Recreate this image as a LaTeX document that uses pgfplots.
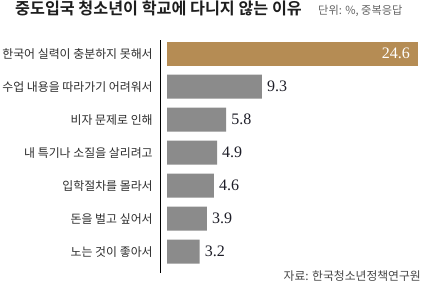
\documentclass[border=0pt]{standalone}
\usepackage{pgfplots}
\pgfplotsset{compat=1.18}
\usepackage{fontspec}
\newfontfamily\kr{Noto Sans CJK KR}
\newfontfamily\krb{Noto Sans CJK KR Bold}
\newfontfamily\valfont{Liberation Serif}
\definecolor{gold}{RGB}{181,140,84}
\definecolor{barg}{RGB}{139,139,139}
\definecolor{valc}{RGB}{30,30,40}
\begin{document}
\begin{tikzpicture}[x=1pt,y=1pt]
\useasboundingbox (0,0) rectangle (422,285);
\node[anchor=base west, inner sep=0pt, text={rgb,255:red,30;green,30;blue,30}] at (15,271) {\krb\fontsize{16.2}{18}\selectfont 중도입국 청소년이 학교에 다니지 않는 이유};
\node[anchor=base west, inner sep=0pt, text={rgb,255:red,100;green,100;blue,100}] at (318,271) {\kr\fontsize{11.2}{13}\selectfont 단위: \%, 중복응답};
\node[anchor=base east, inner sep=0pt, text={rgb,255:red,70;green,70;blue,70}] at (421,4.5) {\kr\fontsize{11.8}{13}\selectfont 자료: 한국청소년정책연구원};
\begin{axis}[
  at={(160pt,12pt)}, anchor=south west,
  scale only axis, width=260pt, height=233pt,
  xmin=-0.69, xmax=24.8, ymin=-0.415, ymax=6.645,
  y dir=reverse,
  axis x line=none,
  axis y line=left,
  y axis line style={-, line width=1pt, black},
  ytick={0,1,2,3,4,5,6},
  yticklabels={한국어 실력이 충분하지 못해서, 수업 내용을 따라가기 어려워서, 비자 문제로 인해, 내 특기나 소질을 살리려고, 입학절차를 몰라서, 돈을 벌고 싶어서, 노는 것이 좋아서},
  yticklabel style={font=\kr\fontsize{11.9}{13}\selectfont, text={rgb,255:red,45;green,45;blue,45}, anchor=east, inner sep=0pt, xshift=-5pt},
  ytick style={draw=none},
  /pgf/number format/assume math mode=true,
  /pgf/number format/.cd, fixed, fixed zerofill, precision=1, /pgfplots/.cd,
]
\addplot[xbar, fill=gold, draw=none, bar width=24pt, bar shift=0pt,
  point meta=x, nodes near coords,
  nodes near coords style={anchor=east, inner sep=0pt, xshift=-8pt, text=white, font=\valfont\fontsize{16}{18}\selectfont}]
  coordinates {(24.6,0)};
\addplot[xbar, fill=barg, draw=none, bar width=24pt, bar shift=0pt,
  point meta=x, nodes near coords,
  nodes near coords style={anchor=west, inner sep=0pt, xshift=5pt, text=valc, font=\valfont\fontsize{16}{18}\selectfont}]
  coordinates {(9.3,1) (5.8,2) (4.9,3) (4.6,4) (3.9,5) (3.2,6)};
\end{axis}
\end{tikzpicture}
\end{document}
